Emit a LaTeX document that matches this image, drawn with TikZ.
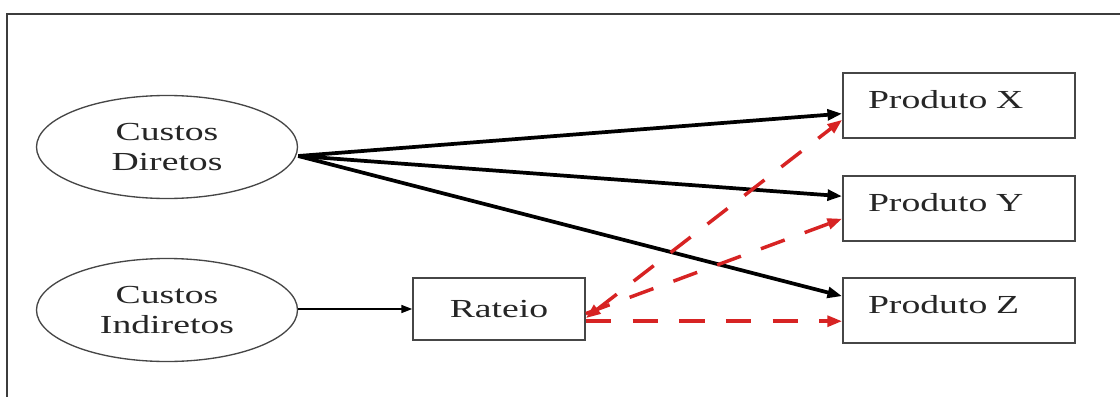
\documentclass[tikz,border=0pt]{standalone}
\usepackage{fontspec}
\setmainfont{Liberation Serif}[FakeStretch=1.45]
\usetikzlibrary{arrows.meta,shapes.geometric,calc}
\definecolor{frame}{RGB}{60,60,60}
\definecolor{boxline}{RGB}{70,70,70}
\definecolor{dashred}{RGB}{215,35,35}
\begin{document}
\begin{tikzpicture}[x=0.75pt,y=-0.75pt,
  every node/.style={font=\fontsize{19.5}{23}\selectfont, text=black!85},
  ovalnode/.style={draw=boxline, line width=1pt, ellipse, minimum width=195.75pt, minimum height=77.25pt, inner sep=0pt, align=center},
  boxnode/.style={draw=boxline, line width=1.3pt, rectangle, inner sep=0pt},
  prodbox/.style={boxnode, inner xsep=18.75pt, inner ysep=0pt, text width=136.5pt, align=left, text height=26.9pt, text depth=21.9pt},
  ratbox/.style={boxnode, minimum width=129pt, minimum height=46.5pt},
  thickarrow/.style={line width=2.8pt, -{Triangle[length=11pt,width=8pt]}},
  thinarrow/.style={line width=1pt, -{Triangle[length=8pt,width=6pt]}},
  redarrow/.style={dashred, line width=2.6pt, dash pattern=on 19pt off 16pt, -{Triangle[length=11pt,width=8pt]}},
  redboth/.style={dashred, line width=2.6pt, dash pattern=on 19pt off 16pt, {Triangle[length=11pt,width=8pt]}-{Triangle[length=11pt,width=8pt]}}
]
\useasboundingbox (0,0) rectangle (1120,396);
\fill[white] (0,0) rectangle (1120,396);
% outer frame (only left and top edges visible)
\draw[frame, line width=1.5pt] (7,400) -- (7,14) -- (1125,14);

\node[ovalnode] (cd) at (167,147) {Custos\\Diretos};
\node[ovalnode] (ci) at (167,310) {Custos\\Indiretos};
\node[ratbox] (rat) at (499,309) {Rateio};
\node[prodbox] (px) at (959,105.5) {Produto X};
\node[prodbox] (py) at (959,208.5) {Produto Y};
\node[prodbox] (pz) at (959,310.5) {Produto Z};

\coordinate (src) at ($(cd.east)+(0,9)$);
\draw[thickarrow] (src) -- (px.184.7);
\draw[thickarrow] (src) -- (py.174.3);
\draw[thickarrow] (src) -- (pz.173.8);

\draw[thinarrow] (ci.east |- rat.west) -- (rat.west);

\coordinate (rz) at (rat.352.7);
\draw[redboth] (rat.354) -- (px.187);
\draw[redarrow] (rat.357) -- (py.185.7);
\draw[redarrow] (rz) -- (pz.west |- rz);
\end{tikzpicture}
\end{document}
